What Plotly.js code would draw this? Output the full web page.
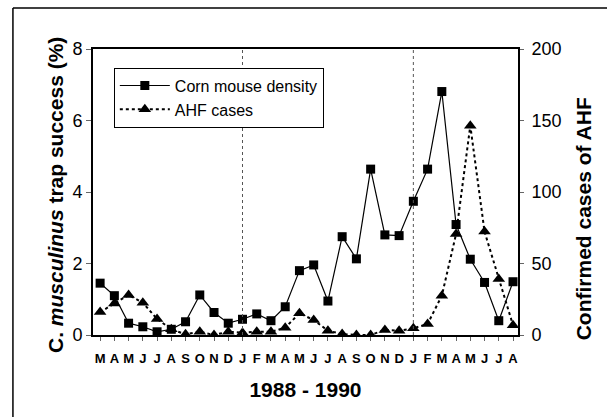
<!DOCTYPE html>
<html>
<head>
<meta charset="utf-8">
<script src="https://cdn.plot.ly/plotly-3.0.1.min.js"></script>
<style>html,body{margin:0;padding:0;background:#fff;}#chart{width:607px;height:417px;}</style>
</head>
<body>
<div id="chart"></div>
<script>
const months = ['M','A','M','J','J','A','S','O','N','D','J','F','M','A','M','J','J','A','S','O','N','D','J','F','M','A','M','J','J','A'];
const mouseDensity = [1.45,1.10,0.33,0.23,0.09,0.16,0.37,1.12,0.63,0.33,0.44,0.59,0.40,0.79,1.80,1.96,0.95,2.75,2.13,4.64,2.80,2.78,3.74,4.64,6.81,3.09,2.12,1.47,0.40,1.49];
const ahfCases = [16,22,28,22.6,11.2,4,0.5,2.3,0,2.3,1.6,2.3,2.3,5.1,15.2,10.5,3,0.7,0,0,3.5,3,4.7,7.7,27.5,70.6,146.4,72.3,39.2,6.8];
const yearBreaks = [10, 22];

const idx = months.map((m, i) => i);
const FONT = 'Liberation Sans, Arial, Helvetica, sans-serif';

const traces = [
  {x: idx, y: mouseDensity, name: 'Corn mouse density', type: 'scatter', mode: 'lines+markers',
   line: {color: '#000', width: 1.2}, marker: {symbol: 'square', size: 9, color: '#000'}, yaxis: 'y'},
  {x: idx, y: ahfCases, name: 'AHF cases', type: 'scatter', mode: 'lines+markers',
   line: {color: '#000', width: 2, dash: 'dot'}, marker: {symbol: 'triangle-up', size: 11, color: '#000'}, yaxis: 'y2'}
];

const shapes = yearBreaks.map(b => ({type: 'line', xref: 'x', yref: 'paper', x0: b, x1: b, y0: 0, y1: 1,
  line: {color: '#555', width: 1, dash: 'dot'}}));
shapes.push({type: 'line', xref: 'paper', yref: 'paper', x0: -0.1884, x1: -0.1884, y0: -0.30, y1: 1.1434, line: {color: '#000', width: 1.5}});
shapes.push({type: 'line', xref: 'paper', yref: 'paper', x0: -0.1884, x1: 1.25, y0: 1.1434, y1: 1.1434, line: {color: '#000', width: 1.5}});

const layout = {
  width: 607, height: 417,
  margin: {l: 93, r: 89, t: 49, b: 82},
  paper_bgcolor: '#fff', plot_bgcolor: '#fff',
  font: {family: FONT, color: '#000'},
  showlegend: true,
  legend: {x: 0.049, y: 0.935, xanchor: 'left', yanchor: 'top', bgcolor: '#fff', bordercolor: '#000', borderwidth: 1,
    font: {size: 16, family: FONT}, tracegroupgap: 0, itemwidth: 50},
  xaxis: {range: [-0.5, 29.35], tickmode: 'array', tickvals: idx, ticktext: months,
    tickfont: {size: 13, family: FONT, weight: 'bold'}, ticks: 'outside', ticklen: 4, tickcolor: '#666', tickwidth: 1,
    ticklabelstandoff: 6,
    showline: true, linecolor: '#000', linewidth: 2, mirror: true, showgrid: false, zeroline: false,
    title: {text: '<b>1988 - 1990</b>', font: {size: 21, family: FONT}, standoff: 18}},
  yaxis: {range: [0, 8], tickvals: [0,2,4,6,8], tickfont: {size: 18, family: FONT}, ticks: 'outside', ticklen: 5, tickcolor: '#666',
    showline: true, linecolor: '#000', linewidth: 2, mirror: true, showgrid: false, zeroline: false},
  yaxis2: {range: [0, 200], tickvals: [0,50,100,150,200], overlaying: 'y', side: 'right', tickfont: {size: 18, family: FONT},
    ticks: 'outside', ticklen: 4, tickcolor: '#666', ticklabelstandoff: 4,
    showline: true, linecolor: '#000', linewidth: 2, showgrid: false, zeroline: false},
  shapes: shapes,
  annotations: [
    {text: '<b>C. <i>musculinus</i> trap success (%)</b>', xref: 'paper', yref: 'paper', x: (56-93)/424.7, y: (335-195)/286,
     textangle: -90, showarrow: false, font: {size: 21, family: FONT}, xanchor: 'center', yanchor: 'middle'},
    {text: '<b>Confirmed cases of AHF</b>', xref: 'paper', yref: 'paper', x: (583-93)/424.7, y: (335-219)/286,
     textangle: -90, showarrow: false, font: {size: 21, family: FONT}, xanchor: 'center', yanchor: 'middle'}
  ]
};

Plotly.newPlot('chart', traces, layout, {displayModeBar: false, staticPlot: true});
</script>
</body>
</html>
